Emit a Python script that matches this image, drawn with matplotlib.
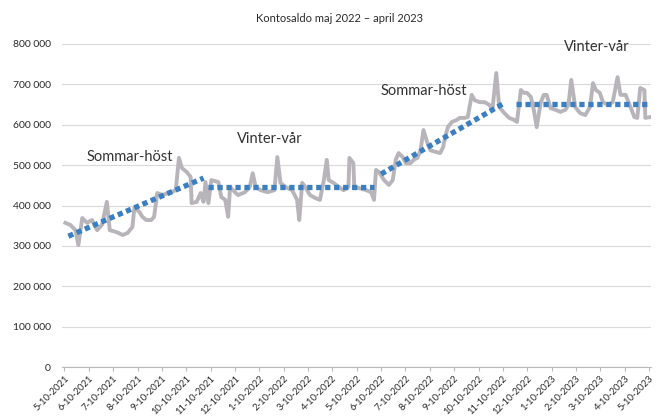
import numpy as np
import matplotlib.pyplot as plt

plt.rcParams['font.family'] = ['Lato', 'DejaVu Sans']

# x labels, one per month
tick_labels = [f"{m}-10-{y}" for y, m in
               [(2021, 5), (2021, 6), (2021, 7), (2021, 8), (2021, 9), (2021, 10),
                (2021, 11), (2021, 12), (2022, 1), (2022, 2), (2022, 3), (2022, 4),
                (2022, 5), (2022, 6), (2022, 7), (2022, 8), (2022, 9), (2022, 10),
                (2022, 11), (2022, 12), (2023, 1), (2023, 2), (2023, 3), (2023, 4),
                (2023, 5)]]

# balance readings: position in months from 5-2021, value in kr
month_pos = [0.04, 0.24, 0.45, 0.57, 0.73, 0.93, 1.13, 1.34, 1.54, 1.74, 1.86, 2.15,
             2.39, 2.59, 2.79, 2.87, 3.08, 3.20, 3.36, 3.56, 3.68, 3.81, 4.01, 4.29,
             4.57, 4.70, 4.82, 5.02, 5.18, 5.22, 5.43, 5.59, 5.71, 5.79, 5.91, 6.03,
             6.32, 6.44, 6.60, 6.72, 6.80, 7.00, 7.13, 7.41, 7.61, 7.73, 7.85, 8.06,
             8.34, 8.62, 8.74, 8.87, 9.07, 9.35, 9.55, 9.64, 9.76, 9.88, 10.08, 10.28,
             10.49, 10.65, 10.77, 10.85, 11.05, 11.26, 11.46, 11.66, 11.70, 11.86, 11.90,
             12.11, 12.39, 12.59, 12.71, 12.79, 12.91, 13.12, 13.32, 13.48, 13.60, 13.72,
             13.89, 14.01, 14.21, 14.33, 14.49, 14.62, 14.74, 14.90, 15.02, 15.22, 15.43,
             15.55, 15.63, 15.75, 15.91, 16.11, 16.23, 16.44, 16.56, 16.72, 16.84, 17.04,
             17.25, 17.45, 17.57, 17.73, 17.85, 18.06, 18.26, 18.46, 18.58, 18.74, 18.87,
             18.99, 19.15, 19.27, 19.39, 19.55, 19.68, 19.80, 19.96, 20.16, 20.36, 20.57,
             20.69, 20.81, 20.97, 21.17, 21.38, 21.58, 21.70, 21.82, 21.98, 22.11, 22.31,
             22.51, 22.71, 22.83, 23.04, 23.24, 23.40, 23.52, 23.64, 23.81, 23.85, 24.05]
saldo = [357, 352, 339, 302, 369, 357, 364, 339, 352, 409, 339, 334,
         327, 332, 347, 394, 384, 372, 364, 364, 372, 431, 426, 431,
         438, 518, 493, 483, 471, 406, 409, 431, 409, 458, 406, 463,
         458, 421, 414, 372, 446, 433, 426, 433, 446, 480, 446, 438,
         433, 438, 520, 456, 446, 438, 414, 364, 456, 446, 426, 419,
         414, 463, 513, 463, 456, 446, 438, 446, 518, 505, 446,
         443, 438, 433, 414, 488, 483, 463, 451, 463, 513, 530,
         520, 505, 505, 513, 518, 537, 587, 555, 537, 533, 530,
         545, 570, 595, 607, 612, 617, 617, 619, 674, 661, 656,
         656, 649, 637, 728, 644, 629, 617, 612, 607, 686, 679,
         679, 669, 637, 594, 654, 674, 674, 641, 637, 632, 637,
         649, 711, 644, 629, 624, 644, 703, 686, 679, 656, 649,
         656, 718, 674, 674, 644, 619, 617, 691, 686, 617, 619]
saldo = [v * 1000 for v in saldo]

# trend segments (start month, end month, start value, end value)
trend_x = [(0.16, 5.71), (5.91, 12.71), (13.0, 17.98), (18.54, 24.0)]
trend_y = [(324000, 468000), (446000, 446000), (478000, 651000), (651000, 651000)]

# period labels
period_names = ["Sommar-höst", "Vinter-vår", "Sommar-höst", "Vinter-vår"]
period_x = [2.67, 8.42, 14.74, 21.86]
period_y = [520000, 565000, 684000, 793000]

fig = plt.figure(figsize=(6.6, 4.19), dpi=100)
ax = fig.add_axes([0.094, 0.124, 0.893, 0.771])

ax.plot(month_pos, saldo, color='#b7b5ba', lw=2.8, solid_joinstyle='round', zorder=2)
for (x0, x1), (y0, y1) in zip(trend_x, trend_y):
    ax.plot([x0, x1], [y0, y1], color='#3b7fc0', lw=3.8,
            linestyle=(0, (1, 0.7)), dash_capstyle='butt', zorder=3)

for name, x, y in zip(period_names, period_x, period_y):
    ax.text(x, y, name, fontsize=10.5, color='#333333', ha='center', va='center')

ax.set_ylim(0, 800000)
ax.set_xlim(-0.1, 24.1)
yt = np.arange(0, 800001, 100000)
ax.set_yticks(yt)
ax.set_yticklabels(["0"] + [f"{v // 1000} 000" for v in yt[1:]], fontsize=7.5, color='#2a2a2a')
ax.set_xticks(range(len(tick_labels)))
ax.set_xticklabels(tick_labels, rotation=45, ha='right', rotation_mode='anchor',
                   fontsize=6.8, color='#2a2a2a')
ax.tick_params(axis='y', length=0, pad=8)
ax.tick_params(axis='x', length=3, color='#bbbbbb', pad=2)
ax.grid(axis='y', color='#d9d9d9', lw=0.8)
ax.set_axisbelow(True)
for s in ['top', 'right', 'left']:
    ax.spines[s].set_visible(False)
ax.spines['bottom'].set_color('#bbbbbb')

fig.text(0.515, 0.957, "Kontosaldo maj 2022 – april 2023", ha='center', va='center',
         fontsize=8, color='#2a2a2a')

fig.savefig('out.png', dpi=100)
